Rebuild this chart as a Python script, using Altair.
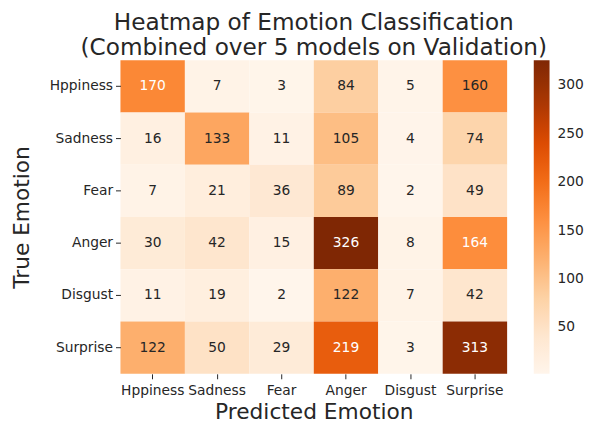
import altair as alt
import pandas as pd

true_labels = ["Hppiness", "Sadness", "Fear", "Anger", "Disgust", "Surprise"]
pred_labels = ["Hppiness", "Sadness", "Fear", "Anger", "Disgust", "Surprise"]

row_hppiness = [170, 7, 3, 84, 5, 160]
row_sadness = [16, 133, 11, 105, 4, 74]
row_fear = [7, 21, 36, 89, 2, 49]
row_anger = [30, 42, 15, 326, 8, 164]
row_disgust = [11, 19, 2, 122, 7, 42]
row_surprise = [122, 50, 29, 219, 3, 313]

legend_ticks = [50, 100, 150, 200, 250, 300]

# matplotlib "Oranges" anchor colours
oranges = ["#fff5eb", "#fee6ce", "#fdd0a2", "#fdae6b", "#fd8d3c",
           "#f16913", "#d94801", "#a63603", "#7f2704"]

matrix = [row_hppiness, row_sadness, row_fear, row_anger, row_disgust, row_surprise]
records = []
for t, row in zip(true_labels, matrix):
    for p, v in zip(pred_labels, row):
        records.append({"true": t, "pred": p, "v": v})
df = pd.DataFrame(records)

vmin = min(min(r) for r in matrix)
vmax = max(max(r) for r in matrix)
n = len(oranges)
color_domain = [vmin + (vmax - vmin) * i / (n - 1) for i in range(n)]

FONT = "DejaVu Sans"
DARK = "#262626"

x_enc = alt.X("pred:N", sort=pred_labels, title="Predicted Emotion",
              scale=alt.Scale(paddingInner=0, paddingOuter=0),
              axis=alt.Axis(labelAngle=0, domain=False, ticks=True, tickSize=5,
                            tickColor=DARK, labelFontSize=14, labelColor=DARK,
                            labelFont=FONT, labelPadding=5, titleFont=FONT,
                            titleFontSize=22, titleFontWeight="normal",
                            titleColor=DARK, titlePadding=4))
y_enc = alt.Y("true:N", sort=true_labels, title="True Emotion",
              scale=alt.Scale(paddingInner=0, paddingOuter=0),
              axis=alt.Axis(domain=False, ticks=True, tickSize=5, tickColor=DARK,
                            labelFontSize=14, labelColor=DARK, labelFont=FONT,
                            labelPadding=3, titleFont=FONT, titleFontSize=22,
                            titleFontWeight="normal", titleColor=DARK,
                            titlePadding=16))

base = alt.Chart(df)

rects = base.mark_rect(stroke=None).encode(
    x=x_enc,
    y=y_enc,
    color=alt.Color("v:Q",
                    scale=alt.Scale(domain=color_domain, range=oranges,
                                    interpolate="rgb"),
                    legend=alt.Legend(title=None, values=legend_ticks,
                                      gradientLength=318, gradientThickness=16,
                                      labelFontSize=14, labelColor=DARK,
                                      labelFont=FONT, offset=27, labelOffset=8,
                                      gradientStrokeWidth=0)),
)

texts = base.mark_text(fontSize=14, font=FONT).encode(
    x=alt.X("pred:N", sort=pred_labels),
    y=alt.Y("true:N", sort=true_labels),
    text="v:Q",
    color=alt.condition("datum.v > 162", alt.value("white"), alt.value(DARK)),
)

chart = (rects + texts).properties(
    width=392,
    height=318,
    title=alt.TitleParams(
        ["Heatmap of Emotion Classification", "(Combined over 5 models on Validation)"],
        fontSize=23.5, fontWeight="normal", font=FONT, color=DARK,
        anchor="middle", frame="group", lineHeight=25, offset=1),
    background="white",
    padding={"left": 2, "top": 0, "right": 5, "bottom": 2},
).configure_view(stroke=None)

chart.save("out.html", embed_options={"renderer": "svg", "actions": False})
